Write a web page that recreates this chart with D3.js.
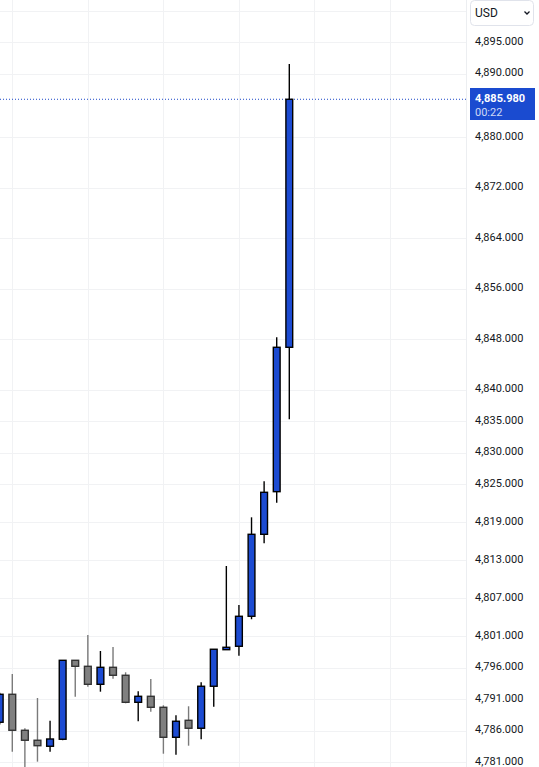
<!DOCTYPE html>
<html>
<head>
<meta charset="utf-8">
<script src="https://cdn.jsdelivr.net/npm/d3@7/dist/d3.min.js"></script>
<style>
  html, body { margin: 0; padding: 0; background: #ffffff; }
  svg { display: block; }
</style>
</head>
<body>
<script>
// ---- data ----
const opens  = [4787.34, 4791.77, 4786.07, 4784.49, 4783.54, 4784.65, 4797.15, 4796.20, 4793.35, 4796.04, 4794.78, 4790.50, 4791.45, 4789.71, 4784.96, 4787.65, 4786.39, 4793.04, 4798.83, 4799.37, 4804.12, 4817.10, 4823.85, 4846.71];
const highs  = [4792.00, 4794.98, 4786.39, 4791.18, 4787.59, 4797.15, 4797.20, 4801.16, 4798.62, 4799.26, 4795.25, 4792.24, 4794.19, 4790.03, 4788.45, 4789.87, 4793.67, 4798.95, 4812.08, 4805.91, 4819.79, 4825.49, 4848.29, 4891.56];
const lows   = [4787.00, 4782.68, 4780.26, 4781.10, 4782.68, 4784.50, 4791.39, 4792.97, 4792.18, 4794.24, 4790.34, 4787.50, 4789.02, 4782.36, 4782.21, 4783.63, 4784.65, 4789.81, 4798.80, 4797.88, 4803.65, 4815.68, 4822.11, 4835.31];
const closes = [4791.77, 4786.07, 4784.49, 4783.63, 4784.69, 4797.15, 4796.20, 4793.35, 4796.04, 4794.78, 4790.50, 4791.45, 4789.71, 4784.96, 4787.50, 4786.39, 4793.04, 4798.90, 4799.21, 4804.12, 4817.10, 4823.75, 4846.71, 4885.98];
const tickValues = [4895, 4890, 4880, 4872, 4864, 4856, 4848, 4840, 4835, 4830, 4825, 4819, 4813, 4807, 4801, 4796, 4791, 4786, 4781];
const extraGrid = [4900];
const vGridIndex = [1, 7, 13, 19, 25, 31];
const lastPrice = 4885.98;
const lastPriceLabel = "4,885.980";
const countdown = "00:22";
const currency = "USD";

// ---- layout ----
const W = 539, H = 767;
const plotRight = 466;

const svg = d3.select("body").append("svg").attr("width", W).attr("height", H)
  .style("font-family", "Roboto, 'Liberation Sans', sans-serif");

const y = d3.scaleLinear().domain([4781, 4895]).range([762.3, 42.3]);
const x = d3.scaleLinear().domain([0, 23]).range([-0.3, 289.3]);

const candles = opens.map((o, i) => ({ i, o, h: highs[i], l: lows[i], c: closes[i] }));

// gridlines
const grid = svg.append("g");
grid.selectAll("line.h").data(tickValues.concat(extraGrid)).join("line")
  .attr("x1", 0).attr("x2", plotRight)
  .attr("y1", d => Math.round(y(d)) + 0.5).attr("y2", d => Math.round(y(d)) + 0.5)
  .attr("stroke", "#f1f2f4").attr("stroke-width", 1);
grid.selectAll("line.v").data(vGridIndex).join("line")
  .attr("x1", d => Math.round(x(d)) + 0.5).attr("x2", d => Math.round(x(d)) + 0.5)
  .attr("y1", 0).attr("y2", H)
  .attr("stroke", "#f1f2f4").attr("stroke-width", 1);

// last price dotted line
svg.append("line")
  .attr("x1", 0).attr("x2", plotRight)
  .attr("y1", y(lastPrice)).attr("y2", y(lastPrice))
  .attr("stroke", "#1a47c8").attr("stroke-width", 1)
  .attr("stroke-dasharray", "1,2");

// candles
const cg = svg.append("g");
const up = d => d.c >= d.o;
cg.selectAll("line.wick").data(candles).join("line")
  .attr("x1", d => x(d.i)).attr("x2", d => x(d.i))
  .attr("y1", d => y(d.h)).attr("y2", d => y(d.l))
  .attr("stroke", d => up(d) ? "#000000" : "#7a7a7a")
  .attr("stroke-width", 1.4);
cg.selectAll("rect.body").data(candles).join("rect")
  .attr("x", d => x(d.i) - 3.4)
  .attr("width", 6.8)
  .attr("y", d => y(Math.max(d.o, d.c)))
  .attr("height", d => Math.max(1, Math.abs(y(d.o) - y(d.c))))
  .attr("fill", d => up(d) ? "#1c4bd2" : "#808080")
  .attr("stroke", d => up(d) ? "#000000" : "#333333")
  .attr("stroke-width", 1.4);

// axis panel
svg.append("rect").attr("x", plotRight).attr("y", 0).attr("width", W - plotRight).attr("height", H)
  .attr("fill", "#ffffff");
svg.append("line").attr("x1", plotRight + 0.5).attr("x2", plotRight + 0.5).attr("y1", 0).attr("y2", H)
  .attr("stroke", "#eceef1");

const axis = d3.axisRight(y).tickValues(tickValues).tickFormat(d3.format(",.3f")).tickSize(0).tickPadding(0);
const ag = svg.append("g").attr("transform", `translate(${plotRight + 9},-1.5)`).call(axis);
ag.select(".domain").remove();
ag.selectAll("text").attr("fill", "#131722").style("font-size", "11px")
  .style("font-family", "Roboto, 'Liberation Sans', sans-serif");

// currency dropdown
const cur = svg.append("g");
cur.append("rect").attr("x", 470.5).attr("y", 0.5).attr("width", 63).attr("height", 25).attr("rx", 4)
  .attr("fill", "#ffffff").attr("stroke", "#e0e3eb");
cur.append("text").attr("x", 475).attr("y", 13).attr("dy", "0.35em")
  .attr("fill", "#131722").style("font-size", "12px").text(currency);
cur.append("path").attr("d", "M524.5,11.5 L527,14 L529.5,11.5")
  .attr("fill", "none").attr("stroke", "#131722").attr("stroke-width", 1.3);

// last price label
const lp = svg.append("g");
lp.append("rect").attr("x", 470).attr("y", 88).attr("width", 65).attr("height", 32)
  .attr("fill", "#1a4bd0");
lp.append("text").attr("x", 475).attr("y", y(lastPrice) - 1).attr("dy", "0.35em")
  .attr("fill", "#ffffff").style("font-size", "11px").style("font-weight", "bold").text(lastPriceLabel);
lp.append("text").attr("x", 475).attr("y", y(lastPrice) + 12.5).attr("dy", "0.35em")
  .attr("fill", "#ffffff").attr("fill-opacity", 0.8).style("font-size", "11px").text(countdown);
</script>
</body>
</html>
